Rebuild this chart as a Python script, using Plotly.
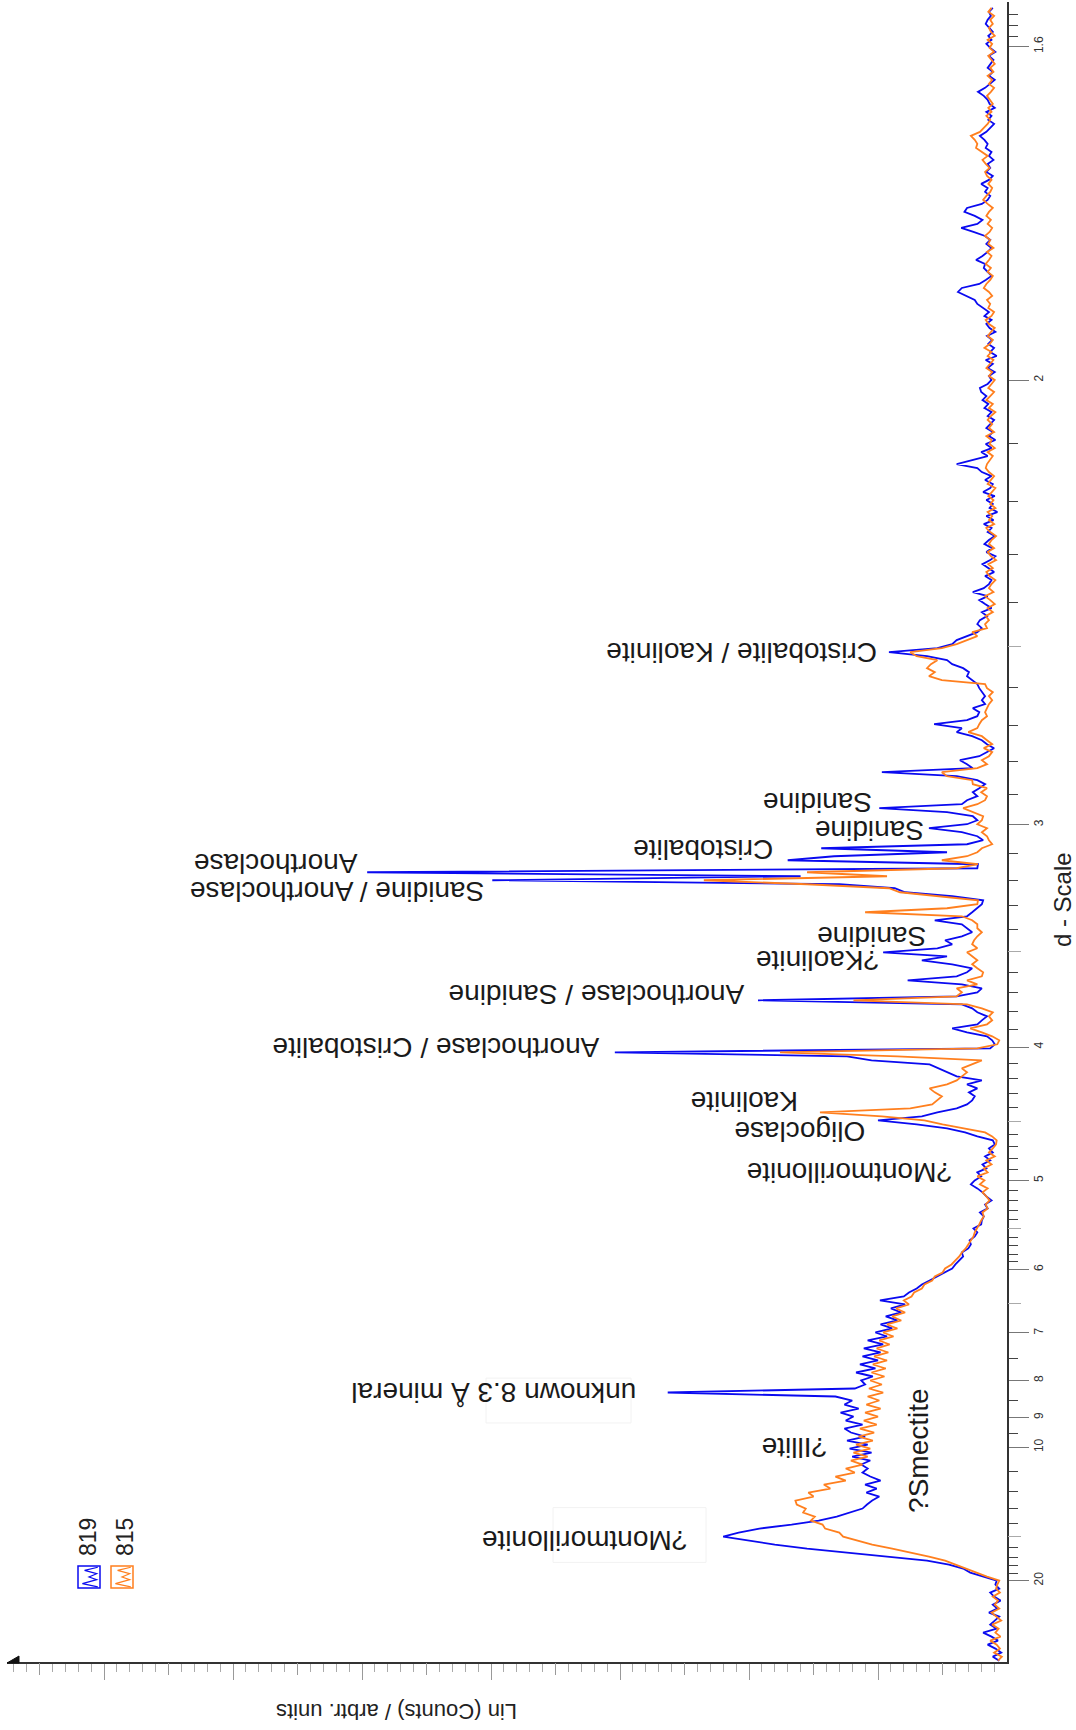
import plotly.graph_objects as go

# Diffraction patterns sampled on a uniform grid of reciprocal d-spacing (1/Å)
S_START = 0.020
S_STEP = 0.0015

counts_819 = [
    60, 110, 45, 90, 150, 70, 120, 185, 80, 130,
    95, 60, 140, 75, 110, 50, 100, 130, 60, 90,
    80, 190, 285, 340, 450, 620, 930, 1280, 1550, 1800,
    1990, 2200, 2080, 1920, 1670, 1460, 1320, 1220, 1120, 1085,
    1045, 990, 1090, 1010, 1100, 980, 1060, 1120, 1080, 1130,
    1060, 1200, 1050, 1220, 1080, 1240, 1100, 1210, 1260, 1120,
    1250, 1190, 1290, 1150, 1260, 1200, 1330, 2630, 1180, 1100,
    1130, 1040, 1170, 1020, 1140, 1000, 1120, 980, 1110, 960,
    1080, 930, 1020, 890, 980, 850, 940, 820, 900, 790,
    985, 800, 760, 700, 660, 600, 540, 480, 425, 400,
    370, 340, 350, 300, 280, 290, 250, 230, 260, 200,
    195, 180, 210, 150, 170, 120, 160, 190, 230, 280,
    250, 200, 230, 160, 190, 130, 170, 110, 140, 95,
    110, 230, 325, 465, 700, 1000, 660, 540, 390, 310,
    270, 250, 295, 230, 310, 195, 390, 465, 540, 600,
    1050, 1240, 3040, 130, 95, 115, 155, 310, 425, 230,
    195, 155, 230, 270, 350, 1930, 390, 230, 195, 350,
    770, 390, 310, 270, 425, 660, 465, 960, 540, 425,
    480, 350, 270, 310, 350, 560, 310, 270, 230, 195,
    185, 425, 790, 870, 1300, 3990, 1600, 4960, 230, 225,
    1700, 1340, 465, 1440, 310, 185, 230, 350, 605, 310,
    230, 265, 465, 990, 350, 310, 230, 265, 215, 170,
    230, 390, 970, 265, 310, 365, 215, 155, 100, 155,
    195, 270, 390, 350, 565, 310, 230, 215, 265, 170,
    195, 170, 195, 215, 230, 270, 310, 295, 340, 425,
    465, 620, 915, 540, 425, 390, 310, 230, 195, 230,
    210, 155, 195, 120, 170, 215, 150, 265, 180, 140,
    120, 170, 100, 150, 190, 130, 90, 160, 115, 175,
    140, 95, 150, 120, 180, 105, 160, 75, 135, 110,
    160, 95, 185, 130, 110, 170, 120, 195, 230, 390,
    260, 150, 200, 120, 165, 90, 140, 110, 160, 130,
    100, 150, 120, 175, 145, 190, 160, 200, 210, 150,
    120, 140, 95, 150, 110, 165, 80, 130, 100, 145,
    115, 155, 90, 135, 160, 120, 175, 140, 190, 230,
    250, 310, 380, 350, 215, 165, 120, 150, 180, 170,
    240, 190, 150, 120, 160, 130, 170, 260, 355, 230,
    190, 250, 330, 310, 195, 150, 130, 170, 150, 200,
    140, 110, 160, 130, 150, 105, 140, 120, 165, 150,
    175, 210, 160, 130, 100, 145, 120, 160, 95, 135,
    150, 180, 225, 170, 130, 95, 140, 110, 150, 125,
    105, 140, 90, 130, 160, 120, 145, 110, 135, 165,
    150, 125, 140, 110,
]

counts_815 = [
    70, 40, 100, 55, 80, 130, 50, 90, 65, 115,
    45, 85, 120, 60, 95, 70, 110, 55, 85, 75,
    60, 155, 235, 310, 390, 480, 605, 735, 890, 1045,
    1160, 1270, 1300, 1410, 1430, 1520, 1490, 1580, 1560, 1630,
    1640, 1500, 1540, 1370, 1420, 1250, 1330, 1180, 1250, 1120,
    1210, 1080, 1190, 1060, 1170, 1040, 1150, 1030, 1140, 1010,
    1110, 1000, 1100, 980, 1090, 990, 1080, 960, 1070, 970,
    1060, 950, 1050, 940, 1040, 930, 1030, 920, 1010, 910,
    990, 880, 960, 850, 930, 820, 890, 790, 860, 760,
    800, 740, 720, 660, 640, 580, 560, 500, 480, 430,
    400, 370, 350, 320, 300, 280, 260, 250, 230, 215,
    200, 180, 190, 150, 165, 135, 160, 190, 150, 210,
    175, 230, 150, 180, 120, 160, 95, 140, 110, 85,
    80, 115, 170, 350, 500, 640, 970, 1450, 750, 580,
    540, 505, 560, 600, 465, 390, 350, 310, 350, 270,
    195, 850, 1760, 230, 75, 60, 115, 195, 285, 155,
    115, 140, 110, 195, 310, 1190, 390, 350, 390, 230,
    310, 195, 185, 230, 270, 230, 270, 310, 230, 270,
    255, 230, 195, 230, 230, 270, 350, 1100, 465, 230,
    225, 505, 830, 915, 1550, 2350, 930, 1550, 390, 225,
    505, 310, 230, 195, 115, 140, 155, 195, 155, 230,
    195, 185, 270, 340, 230, 170, 155, 200, 155, 265,
    270, 465, 505, 230, 155, 195, 140, 115, 180, 115,
    155, 195, 300, 230, 215, 195, 155, 170, 155, 140,
    115, 140, 110, 155, 170, 505, 605, 560, 620, 590,
    540, 700, 750, 505, 390, 310, 230, 270, 155, 170,
    140, 165, 110, 150, 95, 130, 170, 105, 140, 120,
    90, 135, 160, 110, 145, 85, 125, 150, 100, 140,
    120, 85, 130, 160, 100, 140, 115, 150, 90, 130,
    105, 145, 120, 90, 150, 125, 100, 140, 165, 155,
    130, 110, 150, 95, 135, 120, 160, 100, 140, 115,
    150, 125, 90, 140, 110, 160, 130, 100, 145, 120,
    95, 140, 115, 160, 130, 105, 150, 120, 175, 135,
    110, 150, 125, 95, 140, 165, 120, 100, 145, 130,
    155, 115, 140, 180, 160, 130, 110, 150, 125, 165,
    140, 120, 155, 105, 145, 130, 170, 135, 115, 150,
    125, 160, 140, 110, 150, 185, 160, 130, 115, 145,
    120, 155, 170, 135, 165, 190, 150, 200, 240, 230,
    250, 280, 210, 180, 150, 130, 160, 120, 145, 110,
    135, 155, 125, 100, 140, 115, 150, 105, 130, 95,
    120, 145, 100, 135, 115, 150, 95, 125, 140, 110,
    130, 100, 145, 120,
]

# d-scale ticks (Å)
d_major = [1.6, 2, 3, 4, 5, 6, 7, 8, 9, 10, 20]
d_major_text = ["1.6", "2", "3", "4", "5", "6", "7", "8", "9", "10", "20"]
d_medium = [2.5, 3.5, 4.5, 5.5, 6.5, 15]
d_minor = [1.57, 1.58, 1.59, 2.1, 2.2, 2.3, 2.4, 2.6, 2.7, 2.8, 2.9,
           3.1, 3.2, 3.3, 3.4, 3.6, 3.7, 3.8, 3.9, 4.1, 4.2, 4.3, 4.4,
           4.6, 4.7, 4.8, 4.9, 5.1, 5.2, 5.3, 5.4, 5.6, 5.7, 5.8, 5.9,
           7.5, 8.5, 9.5, 11, 12, 13, 14, 16, 17, 18, 19]

# intensity ticks (counts)
i_major = [1000, 2000, 3000, 4000, 5000, 6000, 7000]
i_medium = [500, 1500, 2500, 3500, 4500, 5500, 6500, 7500]
i_minor = list(range(100, 7800, 100))

# peak labels: text, d (Å), intensity (counts), text angle
labels = [
    ("?Montmorillonite", 15.33, 3270, 180),
    ("unknown 8.3 Å mineral", 8.312, 3976, 180),
    ("?Illite", 10.03, 1643, 180),
    ("?Smectite", 10.14, 682, -90),
    ("?Montmorillonite", 4.922, 1217, 180),
    ("Oligoclase", 4.576, 1604, 180),
    ("Kaolinite", 4.352, 2031, 180),
    ("Anorthoclase / Cristobalite", 4.006, 4425, 180),
    ("Anorthoclase / Sanidine", 3.711, 3185, 180),
    ("?Kaolinite", 3.538, 1473, 180),
    ("Sanidine", 3.429, 1046, 180),
    ("Sanidine / Anorthoclase", 3.246, 5193, 180),
    ("Anorthoclase", 3.135, 5665, 180),
    ("Cristobalite", 3.088, 2356, 180),
    ("Sanidine", 3.018, 1070, 180),
    ("Sanidine", 2.925, 1473, 180),
    ("Cristobalite / Kaolinite", 2.515, 2054, 180),
]

series = [("819", counts_819, "#0a0af0"), ("815", counts_815, "#ff7f1e")]

S_RANGE = [0.01949, 0.64168]
I_RANGE = [7752, 0]
FONT = "Liberation Sans, Arial, Helvetica, sans-serif"

s_grid = [S_START + S_STEP * k for k in range(len(counts_819))]

fig = go.Figure()
for name, vals, color in series:
    fig.add_trace(go.Scatter(
        x=vals, y=s_grid, mode="lines", name=name,
        line=dict(color=color, width=1.8), showlegend=False,
    ))
# carrier for the overlay axes that hold the mid-length ticks
fig.add_trace(go.Scatter(x=[], y=[], xaxis="x2", yaxis="y2", showlegend=False))

fig.update_layout(
    width=1076, height=1730,
    margin=dict(l=7, r=69, t=2, b=68),
    paper_bgcolor="white", plot_bgcolor="white",
    font=dict(family=FONT, color="#222"),
    showlegend=False,
    xaxis=dict(
        range=I_RANGE, autorange=False, showgrid=False, zeroline=False,
        showline=True, linecolor="#333", linewidth=1.5,
        ticks="outside", tickvals=i_major, ticklen=16, tickcolor="#999",
        tickwidth=1, showticklabels=False,
        minor=dict(tickvals=i_minor, ticks="outside", ticklen=8,
                   tickcolor="#aaa", tickwidth=1),
    ),
    xaxis2=dict(
        range=I_RANGE, autorange=False, overlaying="x", anchor="y",
        side="bottom", showgrid=False, zeroline=False, showline=False,
        ticks="outside", tickvals=i_medium, ticklen=12, tickcolor="#999",
        showticklabels=False,
    ),
    yaxis=dict(
        range=S_RANGE, autorange=False, side="right", anchor="x",
        showgrid=False, zeroline=False, showline=True, linecolor="#333",
        linewidth=1.5, ticks="outside",
        tickvals=[1 / d for d in d_major], ticktext=d_major_text,
        ticklen=20, tickcolor="#777", tickwidth=1, tickangle=-90,
        tickfont=dict(size=12, color="#333"),
        minor=dict(tickvals=[1 / d for d in d_minor], ticks="outside",
                   ticklen=9, tickcolor="#444", tickwidth=1),
    ),
    yaxis2=dict(
        range=S_RANGE, autorange=False, overlaying="y", anchor="x",
        side="right", showgrid=False, zeroline=False, showline=False,
        ticks="outside", tickvals=[1 / d for d in d_medium], ticklen=13,
        tickcolor="#aaa", showticklabels=False,
    ),
)

for text, d, inten, ang in labels:
    fig.add_annotation(
        x=inten, y=1 / d, xref="x", yref="y", text=text, textangle=ang,
        showarrow=False, xanchor="center", yanchor="middle",
        font=dict(size=28, color="#1a1a1a", family=FONT),
    )

# axis titles
fig.add_annotation(x=1.055, y=0.459, xref="paper", yref="paper",
                   xanchor="center", yanchor="middle",
                   text="d - Scale", textangle=-90, showarrow=False,
                   font=dict(size=24, color="#222", family=FONT))
fig.add_annotation(x=0.39, y=-0.0295, xref="paper", yref="paper",
                   xanchor="center", yanchor="middle",
                   text="Lin (Counts) / arbtr. units", textangle=180,
                   showarrow=False, font=dict(size=22, color="#222", family=FONT))

# arrow head at the high-intensity end of the intensity axis
fig.add_shape(type="path", xref="paper", yref="paper",
              path="M 0,-0.0006 L 0.012,-0.0006 L 0.012,0.0036 Z",
              fillcolor="#111", line=dict(color="#111", width=1))

# legend: rotated names with small pattern icons
legend_items = [("819", "#0a0af0", 0.071, 0.081), ("815", "#ff7f1e", 0.104, 0.118)]
for name, color, bx, tx in legend_items:
    fig.add_annotation(x=tx, y=0.0753, xref="paper", yref="paper", text=name,
                       xanchor="center", yanchor="middle",
                       textangle=-90, showarrow=False,
                       font=dict(size=23, color="#222", family=FONT))
    x0, x1 = bx, bx + 0.022
    y0, y1 = 0.0446, 0.0578
    fig.add_shape(type="rect", xref="paper", yref="paper",
                  x0=x0, x1=x1, y0=y0, y1=y1,
                  line=dict(color=color, width=1.5), fillcolor="white")
    w, h = x1 - x0, y1 - y0
    pts = [(0.9, 0.95), (0.3, 0.8), (0.85, 0.65), (0.5, 0.5),
           (0.85, 0.38), (0.2, 0.2), (0.9, 0.05)]
    path = "M " + " L ".join(f"{x0 + px * w:.4f},{y0 + py * h:.4f}" for px, py in pts)
    fig.add_shape(type="path", xref="paper", yref="paper", path=path,
                  line=dict(color=color, width=1.2))

# faint frames left around two labels
for fx0, fy0, fx1, fy1 in [(0.546, 0.060, 0.699, 0.093), (0.479, 0.144, 0.624, 0.171)]:
    fig.add_shape(type="rect", xref="paper", yref="paper",
                  x0=fx0, y0=fy0, x1=fx1, y1=fy1,
                  line=dict(color="#f2f2f2", width=1), layer="below")

fig.write_html("out.html")
